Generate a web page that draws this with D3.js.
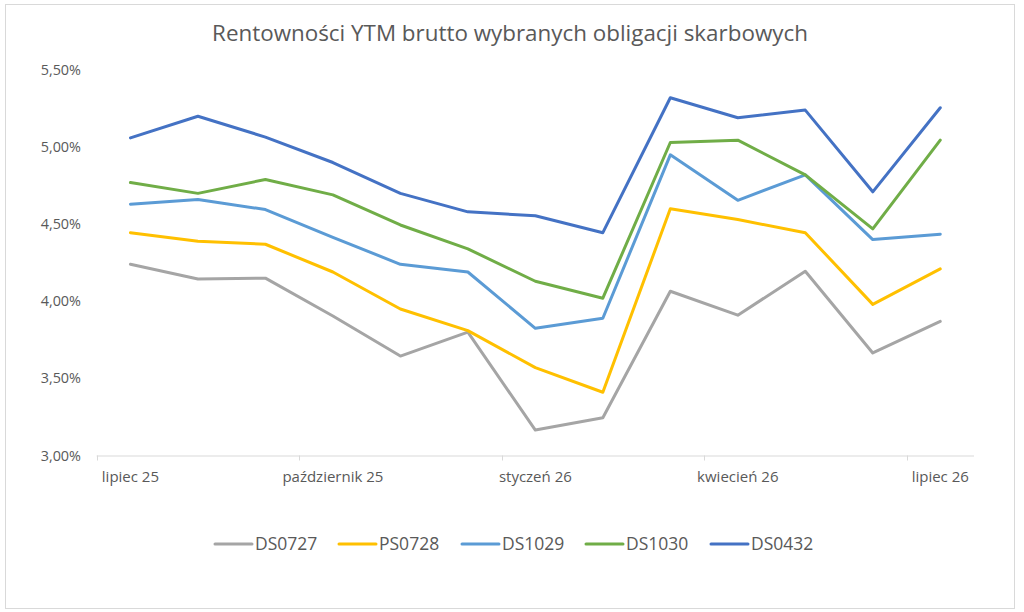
<!DOCTYPE html>
<html><head><meta charset="utf-8">
<script src="https://cdn.jsdelivr.net/npm/d3@7"></script>
<style>body{margin:0;background:#fff;}svg{display:block;font-family:"Open Sans","Noto Sans",sans-serif;}</style>
</head><body>
<svg id="c" width="1024" height="612"></svg>
<script>
const categories = ["lipiec 25","sierpień 25","wrzesień 25","październik 25","listopad 25","grudzień 25","styczeń 26","luty 26","marzec 26","kwiecień 26","maj 26","czerwiec 26","lipiec 26"];
const tickLabels = ["lipiec 25","październik 25","styczeń 26","kwiecień 26","lipiec 26"];
const yTicks = [3.0,3.5,4.0,4.5,5.0,5.5];
const seriesNames = ["DS0727","PS0728","DS1029","DS1030","DS0432"];
const seriesColors = ["#A5A5A5","#FFC000","#5B9BD5","#70AD47","#4472C4"];
const DS0727 = [4.24,4.145,4.15,3.905,3.645,3.80,3.165,3.245,4.065,3.91,4.195,3.665,3.87];
const PS0728 = [4.445,4.39,4.37,4.19,3.95,3.81,3.57,3.41,4.60,4.53,4.445,3.98,4.21];
const DS1029 = [4.63,4.66,4.595,4.415,4.24,4.19,3.825,3.89,4.95,4.655,4.82,4.40,4.435];
const DS1030 = [4.77,4.70,4.79,4.69,4.495,4.34,4.13,4.02,5.03,5.045,4.82,4.47,5.045];
const DS0432 = [5.06,5.20,5.065,4.90,4.70,4.58,4.555,4.445,5.32,5.19,5.24,4.71,5.255];
const seriesValues = [DS0727,PS0728,DS1029,DS1030,DS0432];

const svg = d3.select("#c");
svg.append("rect").attr("x",5.5).attr("y",4.5).attr("width",1009).attr("height",604)
  .attr("fill","#fff").attr("stroke","#D9D9D9").attr("stroke-width",1);

svg.append("text").attr("x",510).attr("y",41).attr("text-anchor","middle")
  .attr("font-size",22.4).attr("fill","#595959")
  .text("Rentowności YTM brutto wybranych obligacji skarbowych");

const x = d3.scaleBand().domain(categories).range([96.7,974]);
const y = d3.scaleLinear().domain([3.0,5.5]).range([455.5,70]);

// y labels
const fmt = v => d3.format(".2f")(v).replace(".",",")+"%";
svg.append("g").selectAll("text").data(yTicks).join("text")
  .attr("x",81).attr("y",d=>y(d)).attr("dy","0.35em").attr("text-anchor","end")
  .attr("font-size",14.4).attr("fill","#595959").text(fmt);

// x axis line
svg.append("line").attr("x1",x.range()[0]).attr("x2",x.range()[1])
  .attr("y1",y(3)+0.5).attr("y2",y(3)+0.5).attr("stroke","#D9D9D9").attr("stroke-width",1);
// tick marks at band boundaries every 3 categories
const tickIdx = [0,3,6,9,12];
svg.append("g").selectAll("line").data(tickIdx).join("line")
  .attr("x1",i=>Math.round(x(categories[i]))+0.5).attr("x2",i=>Math.round(x(categories[i]))+0.5)
  .attr("y1",y(3)).attr("y2",y(3)+5).attr("stroke","#D9D9D9");
svg.append("g").selectAll("text").data(tickLabels).join("text")
  .attr("x",d=>x(d)+x.bandwidth()/2).attr("y",482).attr("text-anchor","middle")
  .attr("font-size",15).attr("fill","#595959").text(d=>d);

// lines
const line = d3.line().x((d,i)=>x(categories[i])+x.bandwidth()/2).y(d=>y(d));
svg.append("g").selectAll("path").data(seriesValues).join("path")
  .attr("d",line).attr("fill","none").attr("stroke",(d,i)=>seriesColors[i])
  .attr("stroke-width",3).attr("stroke-linejoin","round").attr("stroke-linecap","round");

// legend
const legX = [215,339,462,586,711];
const lg = svg.append("g").selectAll("g").data(seriesNames).join("g")
  .attr("transform",(d,i)=>`translate(${legX[i]},544)`);
lg.append("line").attr("x1",0).attr("x2",37).attr("y1",0).attr("y2",0)
  .attr("stroke",(d,i)=>seriesColors[i]).attr("stroke-width",3).attr("stroke-linecap","round");
lg.append("text").attr("x",40).attr("y",0).attr("dy","0.35em").attr("font-size",17.5)
  .attr("fill","#595959").text(d=>d);
</script>
</body></html>
